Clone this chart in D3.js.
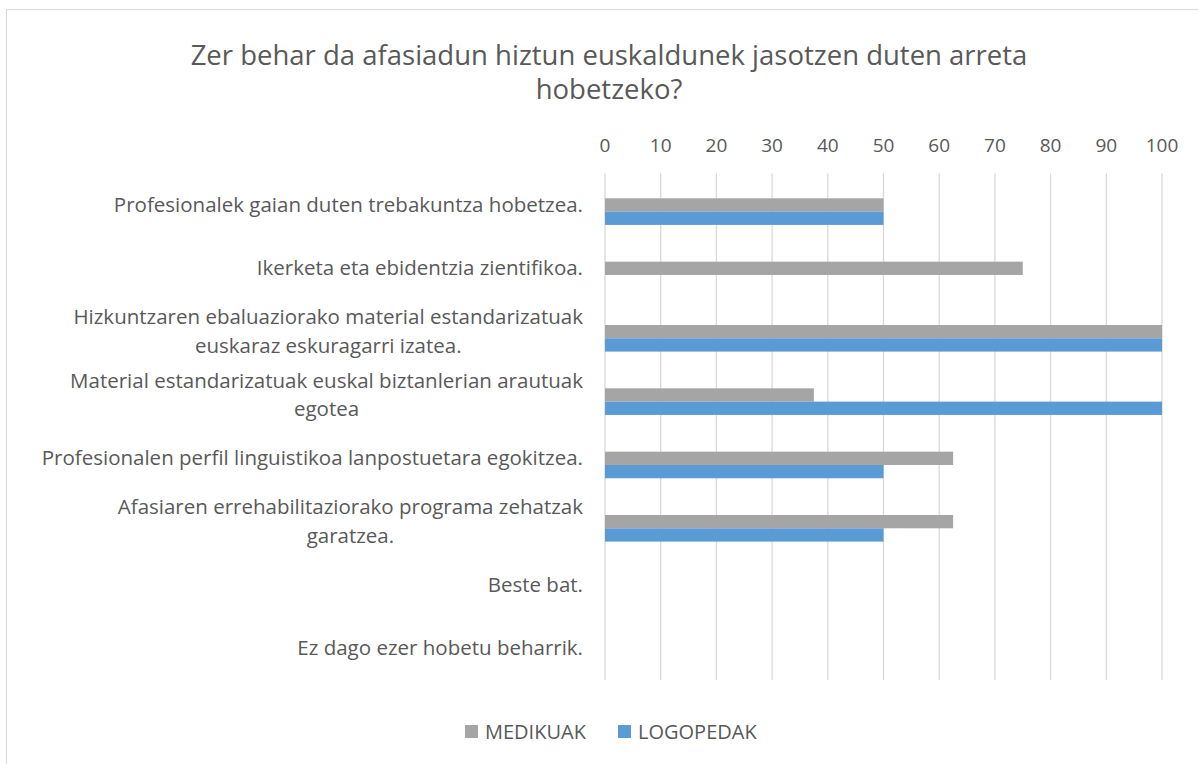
<!DOCTYPE html>
<html>
<head>
<meta charset="utf-8">
<script src="https://cdn.jsdelivr.net/npm/d3@7"></script>
<style>
  body { margin: 0; background: #fff; }
  svg { display: block; overflow: hidden; }
  text { font-family: "Open Sans", sans-serif; fill: #595959; }
</style>
</head>
<body>
<svg id="chart" width="1198" height="764"></svg>
<script>
// categories, each as the lines it is drawn on
var categories = [
  ["Profesionalek gaian duten trebakuntza hobetzea."],
  ["Ikerketa eta ebidentzia zientifikoa."],
  ["Hizkuntzaren ebaluaziorako material estandarizatuak", "euskaraz eskuragarri izatea."],
  ["Material estandarizatuak euskal biztanlerian arautuak", "egotea"],
  ["Profesionalen perfil linguistikoa lanpostuetara egokitzea."],
  ["Afasiaren errehabilitaziorako programa zehatzak", "garatzea."],
  ["Beste bat."],
  ["Ez dago ezer hobetu beharrik."]
];
var seriesNames = ["MEDIKUAK", "LOGOPEDAK"];
var medikuak  = [50, 75, 100, 37.5, 62.5, 62.5, 0, 0];
var logopedak = [50, 0, 100, 100, 50, 50, 0, 0];
var xTicks = [0, 10, 20, 30, 40, 50, 60, 70, 80, 90, 100];
var title = ["Zer behar da afasiadun hiztun euskaldunek jasotzen duten arreta", "hobetzeko?"];

var colors = {"MEDIKUAK": "#a5a5a5", "LOGOPEDAK": "#5b9bd5"};

var svg = d3.select("#chart");

// outer chart border (runs off the right and bottom edge)
svg.append("rect")
  .attr("x", 6.5).attr("y", 9.5)
  .attr("width", 1300).attr("height", 900)
  .attr("fill", "#fff")
  .attr("stroke", "#d9d9d9")
  .attr("stroke-width", 1);

var plot = {left: 605, right: 1162, top: 173.3, bottom: 680};

var x = d3.scaleLinear().domain([0, 100]).range([plot.left, plot.right]);
var y = d3.scaleBand()
  .domain(d3.range(categories.length))
  .range([plot.top, plot.bottom])
  .paddingInner(0.37)
  .paddingOuter(0.185);
// an empty slot sits above the two series, as in the original
var slot = d3.scaleBand()
  .domain(["_empty"].concat(seriesNames))
  .range([0, y.bandwidth()]);

// title
svg.append("text")
  .attr("text-anchor", "middle")
  .attr("font-size", 27.5)
  .selectAll("tspan")
  .data(title)
  .enter()
  .append("tspan")
  .attr("x", 609)
  .attr("y", function(d, i) { return 65 + i * 34; })
  .text(function(d) { return d; });

// gridlines
svg.append("g")
  .selectAll("line")
  .data(xTicks)
  .enter()
  .append("line")
  .attr("x1", function(d) { return x(d); })
  .attr("x2", function(d) { return x(d); })
  .attr("y1", plot.top)
  .attr("y2", plot.bottom)
  .attr("stroke", "#d9d9d9")
  .attr("stroke-width", 1.3);

// x axis labels on top
svg.append("g")
  .selectAll("text")
  .data(xTicks)
  .enter()
  .append("text")
  .attr("x", function(d) { return x(d); })
  .attr("y", 152)
  .attr("text-anchor", "middle")
  .attr("font-size", 19)
  .text(function(d) { return d; });

// bars
var rows = categories.map(function(c, i) {
  return [{key: "MEDIKUAK", value: medikuak[i], i: i}, {key: "LOGOPEDAK", value: logopedak[i], i: i}];
});

svg.append("g")
  .selectAll("g")
  .data(rows)
  .enter()
  .append("g")
  .attr("transform", function(d, i) { return "translate(0," + y(i) + ")"; })
  .selectAll("rect")
  .data(function(d) { return d; })
  .enter()
  .append("rect")
  .attr("x", x(0))
  .attr("y", function(d) { return slot(d.key); })
  .attr("width", function(d) { return x(d.value) - x(0); })
  .attr("height", slot.bandwidth())
  .attr("fill", function(d) { return colors[d.key]; });

// category labels: block right aligned, lines centred within it
var labelRight = 583;
var labels = svg.append("g")
  .selectAll("text")
  .data(categories)
  .enter()
  .append("text")
  .attr("font-size", 20.5)
  .attr("text-anchor", "middle");

labels.each(function(lines, i) {
  var t = d3.select(this);
  var cy = y(i) + y.bandwidth() / 2;
  var spans = t.selectAll("tspan")
    .data(lines)
    .enter()
    .append("tspan")
    .attr("y", function(d, j) { return cy + 7 + (j - (lines.length - 1) / 2) * 28.5; })
    .text(function(d) { return d; });
  var w = 0;
  spans.each(function() { w = Math.max(w, this.getComputedTextLength()); });
  spans.attr("x", labelRight - w / 2);
});

// legend
var legend = svg.append("g").attr("transform", "translate(465,725)");
var items = legend.selectAll("g")
  .data(seriesNames)
  .enter()
  .append("g")
  .attr("transform", function(d, i) { return "translate(" + (i * 153) + ",0)"; });
items.append("rect")
  .attr("width", 13).attr("height", 13)
  .attr("fill", function(d) { return colors[d]; });
items.append("text")
  .attr("x", 20)
  .attr("y", 13.5)
  .attr("font-size", 20)
  .text(function(d) { return d; });
</script>
</body>
</html>
